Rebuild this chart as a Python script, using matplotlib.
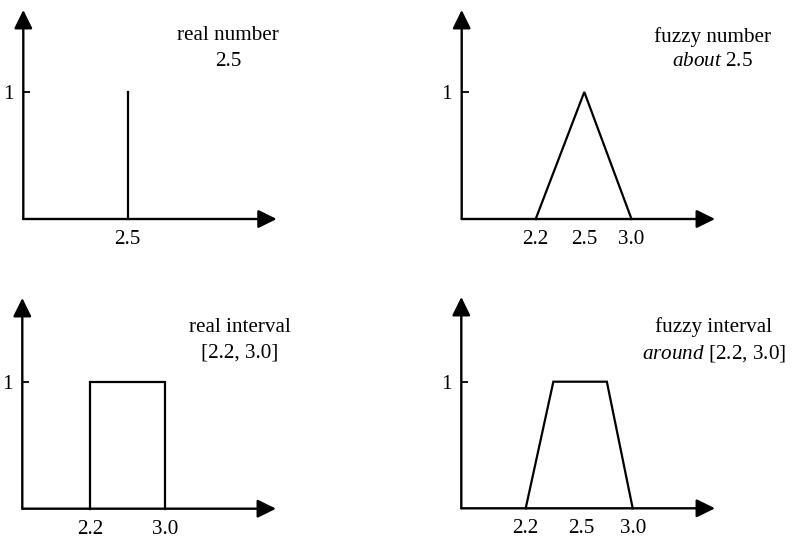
import numpy as np
import matplotlib
matplotlib.use("Agg")
import matplotlib.pyplot as plt

plt.rcParams['font.family'] = ['Liberation Serif', 'DejaVu Serif']
plt.rcParams['mathtext.fontset'] = 'custom'
plt.rcParams['mathtext.rm'] = 'Liberation Serif'
plt.rcParams['mathtext.it'] = 'Liberation Serif:italic'

# ---------------- data ----------------
real_number_x = [2.5, 2.5]
real_number_y = [0, 1]
fuzzy_number_x = [2.2, 2.5, 3.0]
fuzzy_number_y = [0, 1, 0]
real_interval_x = [2.2, 2.2, 3.0, 3.0]
real_interval_y = [0, 1, 1, 0]
fuzzy_interval_x = [2.2, 2.35, 2.75, 3.0]
fuzzy_interval_y = [0, 1, 1, 0]

ticks_real_number = [2.5]
ticks_fuzzy_number = [2.2, 2.5, 3.0]
ticks_real_interval = [2.2, 3.0]
ticks_fuzzy_interval = [2.2, 2.5, 3.0]
tick_labels_real_number = ['2.5']
tick_labels_fuzzy_number = ['2.2', '2.5', '3.0']
tick_labels_real_interval = ['2.2', '3.0']
tick_labels_fuzzy_interval = ['2.2', '2.5', '3.0']

titles = [
    ['real number', '2.5'],
    ['fuzzy number', r'$\mathit{about}$ 2.5'],
    ['real interval', '[2.2, 3.0]'],
    ['fuzzy interval', r'$\mathit{around}$ [2.2, 3.0]'],
]

# ---------------- layout (pixels) ----------------
W, H = 797, 540
FS = 15.2
fig = plt.figure(figsize=(W / 100, H / 100), dpi=100)

panels = [
    dict(x0=23.3, x1=276.7, y0=219, ytip=10, y1=92,
         anchors=([2.5], [127.7]),
         x=real_number_x, y=real_number_y,
         ticks=ticks_real_number, labels=tick_labels_real_number,
         title=titles[0], tpos=(228, 36, 61)),
    dict(x0=461.7, x1=715, y0=219, ytip=10, y1=92,
         anchors=([2.2, 2.5, 3.0], [535.7, 584.3, 631.5]),
         x=fuzzy_number_x, y=fuzzy_number_y,
         ticks=ticks_fuzzy_number, labels=tick_labels_fuzzy_number,
         title=titles[1], tpos=(712, 37, 62)),
    dict(x0=22.3, x1=276, y0=508.7, ytip=298, y1=381.7,
         anchors=([2.2, 3.0], [90, 165]),
         x=real_interval_x, y=real_interval_y,
         ticks=ticks_real_interval, labels=tick_labels_real_interval,
         title=titles[2], tpos=(240, 327, 353)),
    dict(x0=461.3, x1=715, y0=508.3, ytip=297, y1=381.7,
         anchors=([2.2, 2.5, 3.0], [525.7, 581, 632.7]),
         x=fuzzy_interval_x, y=fuzzy_interval_y,
         ticks=ticks_fuzzy_interval, labels=tick_labels_fuzzy_interval,
         title=titles[3], tpos=(714, 327, 353)),
]


def piecewise_scale(ax, vals, pxs, x0, x1):
    v = np.asarray(vals, float)
    p = np.asarray(pxs, float)
    if len(v) == 1:
        sl = sr = 100.0
    else:
        sl = (p[1] - p[0]) / (v[1] - v[0])
        sr = (p[-1] - p[-2]) / (v[-1] - v[-2])
    vv = np.concatenate([[v[0] - 1000], v, [v[-1] + 1000]])
    pp = np.concatenate([[p[0] - 1000 * sl], p, [p[-1] + 1000 * sr]])

    def fwd(x):
        return np.interp(x, vv, pp)

    def inv(y):
        return np.interp(y, pp, vv)

    ax.set_xscale('function', functions=(fwd, inv))
    ax.set_xlim(inv(x0), inv(x1))


for P in panels:
    left = P['x0'] / W
    bottom = 1 - P['y0'] / H
    width = (P['x1'] - P['x0']) / W
    height = (P['y0'] - P['ytip']) / H
    ax = fig.add_axes([left, bottom, width, height])
    ax.set_facecolor('none')
    for s in ax.spines.values():
        s.set_visible(False)

    piecewise_scale(ax, P['anchors'][0], P['anchors'][1], P['x0'], P['x1'])
    ytop = (P['y0'] - P['ytip']) / (P['y0'] - P['y1'])
    ax.set_ylim(0, ytop)

    # axes arrows
    arrow_style = '-|>,head_length=0.75,head_width=0.37'
    for tip in [(1, 0), (0, 1)]:
        ax.annotate('', xy=tip, xytext=(0, 0), xycoords='axes fraction',
                    textcoords='axes fraction',
                    arrowprops=dict(arrowstyle=arrow_style, color='black',
                                    lw=1.7, mutation_scale=15,
                                    shrinkA=0, shrinkB=0))

    # membership function
    ax.plot(P['x'], P['y'], color='black', lw=1.6, clip_on=False,
            solid_joinstyle='miter')

    # ticks
    ax.set_xticks(P['ticks'])
    ax.set_xticklabels(P['labels'])
    ax.xaxis.set_minor_locator(matplotlib.ticker.NullLocator())
    ax.tick_params(axis='x', length=0, pad=8.0, labelsize=FS)
    ax.set_yticks([1])
    ax.set_yticklabels(['1'])
    ax.yaxis.set_minor_locator(matplotlib.ticker.NullLocator())
    ax.tick_params(axis='y', direction='in', length=5, width=1.3, pad=7,
                   labelsize=FS)

    # title text
    tx, ty1, ty2 = P['tpos']
    fig.text(tx / W, 1 - ty1 / H, P['title'][0], ha='center', va='center',
             fontsize=FS)
    fig.text(tx / W, 1 - ty2 / H, P['title'][1], ha='center', va='center',
             fontsize=FS)

fig.savefig('out.png', dpi=100, facecolor='white')
